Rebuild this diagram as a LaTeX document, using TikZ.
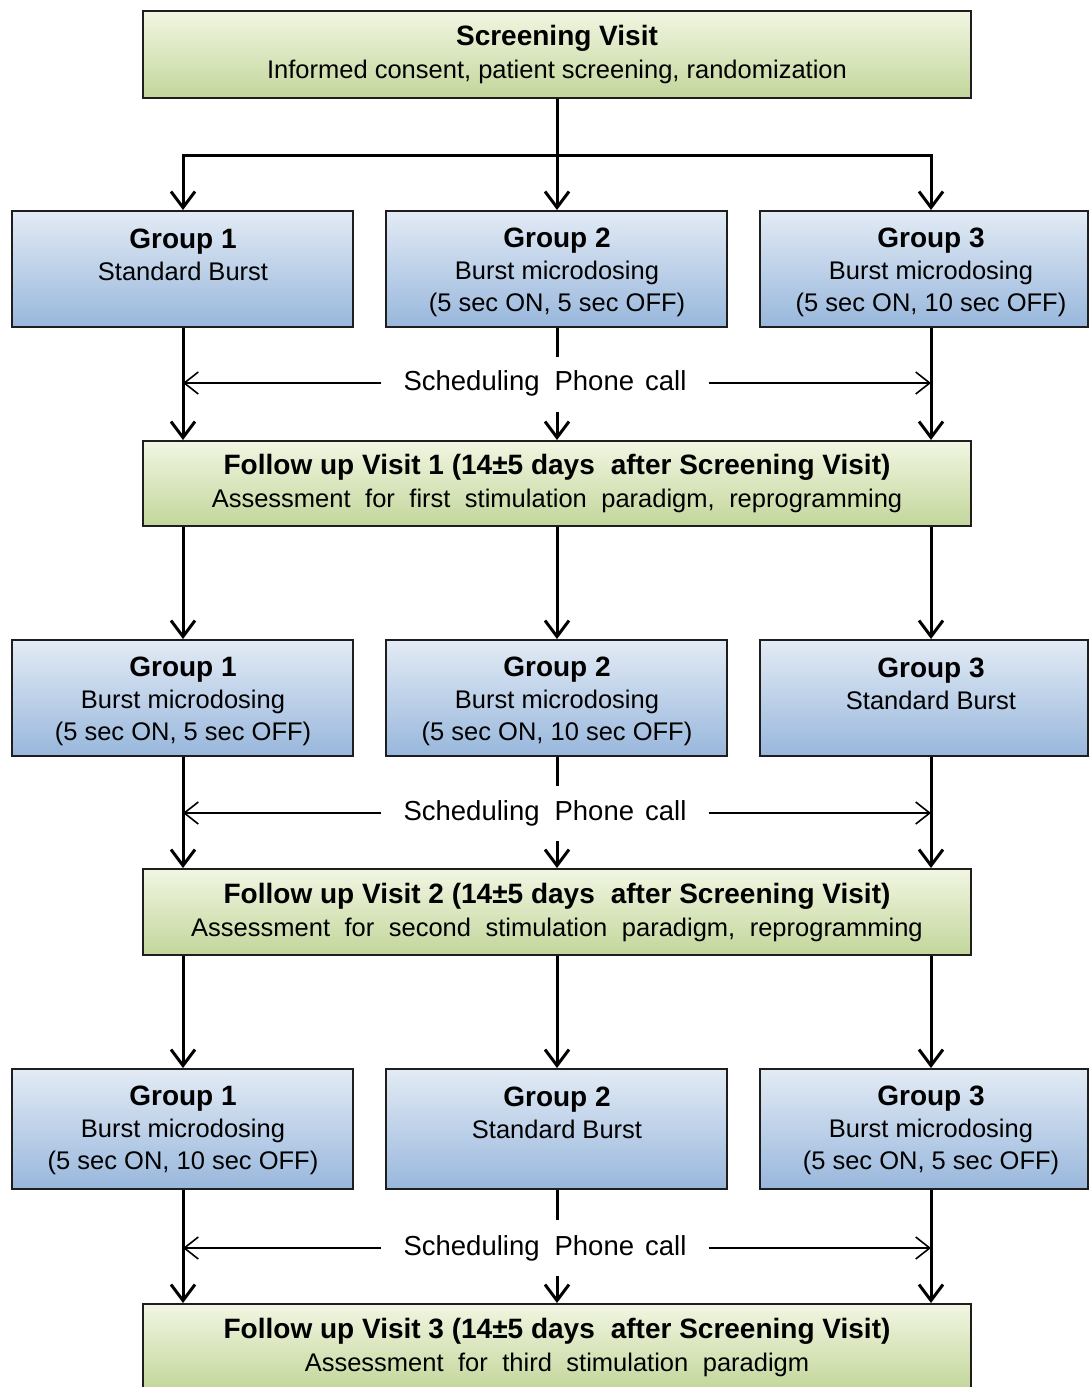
\documentclass[tikz,border=0pt]{standalone}
\usepackage{fontspec}
\setmainfont{Liberation Sans}
\usetikzlibrary{arrows.meta,calc}
\definecolor{gtop}{HTML}{F1F6E2}
\definecolor{gbot}{HTML}{C3D69B}
\definecolor{btop}{HTML}{E3EBF5}
\definecolor{bbot}{HTML}{98B7DC}
\definecolor{edge}{HTML}{1E1E1E}
\newcommand{\ttl}[1]{{\fontsize{28pt}{33pt}\selectfont\bfseries #1}}
\newcommand{\wsp}{\hspace{14.5pt}}
\tikzset{
  greenbox/.style={draw=edge, line width=2pt, top color=gtop, bottom color=gbot,
    minimum width=828pt, inner sep=0pt, align=center,
    font=\fontsize{25.5pt}{33pt}\selectfont},
  bluebox/.style={draw=edge, line width=2pt, top color=btop, bottom color=bbot,
    minimum width=341pt, minimum height=116pt, inner sep=0pt},
  bluetext/.style={inner sep=0pt, align=center, font=\fontsize{25.5pt}{32pt}\selectfont},
  conn/.style={line width=3pt, -{Straight Barb[length=16pt,width=24pt,line width=3pt]}},
  plain/.style={line width=3pt},
  phone/.style={line width=1.6pt, -{Straight Barb[length=14pt,width=22pt,line width=1.6pt]}},
  phonelbl/.style={inner xsep=22pt, inner ysep=2pt, font=\fontsize{27.5pt}{30pt}\selectfont},
}
\begin{document}
\begin{tikzpicture}[x=1pt,y=-1pt]
\useasboundingbox (0,0) rectangle (1089,1387);
\coordinate (colL) at (183,0);
\coordinate (colM) at (557,0);
\coordinate (colR) at (931,0);

% green boxes
\node[greenbox, minimum height=87pt] (sv) at (557,54.5)
  {\ttl{Screening Visit}\\[-0.5pt]Informed consent, patient screening, randomization};
\node[greenbox, minimum height=85pt] (fu1) at (557,483.5)
  {\ttl{Follow up Visit 1 (14±5 days\hspace{16pt}after Screening Visit)}\\Assessment\wsp for\wsp first\wsp stimulation\wsp paradigm,\wsp reprogramming};
\node[greenbox, minimum height=86pt] (fu2) at (557,912)
  {\ttl{Follow up Visit 2 (14±5 days\hspace{16pt}after Screening Visit)}\\Assessment\wsp for\wsp second\wsp stimulation\wsp paradigm,\wsp reprogramming};
\node[greenbox, minimum height=86pt] (fu3) at (557,1347)
  {\ttl{Follow up Visit 3 (14±5 days\hspace{16pt}after Screening Visit)}\\Assessment\wsp for\wsp third\wsp stimulation\wsp paradigm};

% row 1
\node[bluebox] (g11) at (182.5,269) {};
\node[bluebox] (g12) at (556.5,269) {};
\node[bluebox, minimum width=328pt] (g13) at (924,269) {};
\node[bluetext] (g11t) at (183,255) {\ttl{Group 1}\\Standard Burst};
\node[bluetext] (g12t) at (557,272) {\ttl{Group 2}\\Burst microdosing\\(5 sec ON,  5 sec OFF)};
\node[bluetext] (g13t) at (931,272) {\ttl{Group 3}\\Burst microdosing\\(5 sec ON,  10 sec OFF)};

% row 2
\node[bluebox] (g21) at (182.5,698) {};
\node[bluebox] (g22) at (556.5,698) {};
\node[bluebox, minimum width=328pt] (g23) at (924,698) {};
\node[bluetext] (g21t) at (183,701) {\ttl{Group 1}\\Burst microdosing\\(5 sec ON,  5 sec OFF)};
\node[bluetext] (g22t) at (557,701) {\ttl{Group 2}\\Burst microdosing\\(5 sec ON,  10 sec OFF)};
\node[bluetext] (g23t) at (931,684) {\ttl{Group 3}\\Standard Burst};

% row 3
\node[bluebox, minimum height=120pt] (g31) at (182.5,1129) {};
\node[bluebox, minimum height=120pt] (g32) at (556.5,1129) {};
\node[bluebox, minimum height=120pt, minimum width=328pt] (g33) at (924,1129) {};
\node[bluetext] (g31t) at (183,1130) {\ttl{Group 1}\\Burst microdosing\\(5 sec ON,  10 sec OFF)};
\node[bluetext] (g32t) at (557,1113) {\ttl{Group 2}\\Standard Burst};
\node[bluetext] (g33t) at (931,1130) {\ttl{Group 3}\\Burst microdosing\\(5 sec ON,  5 sec OFF)};

% top split
\coordinate (split) at (557,155);
\draw[plain] (sv.south) -- (split);
\draw[conn] (split) -| (g11.north -| colL);
\draw[conn] (split) -- (g12.north -| colM);
\draw[conn] (split) -| (g13.north -| colR);

% row 1 -> FU1
\draw[conn] (g11.south -| colL) -- (fu1.north -| colL);
\draw[conn] (g13.south -| colR) -- (fu1.north -| colR);
\coordinate (m1a) at (557,357);
\coordinate (m1b) at (557,412);
\draw[plain] (g12.south -| colM) -- (m1a);
\draw[conn] (m1b) -- (fu1.north -| colM);
\node[phonelbl] (ph1) at (545,383) {Scheduling\hspace{15pt}Phone\hspace{11pt}call};
\draw[phone] (ph1.west) -- (ph1.west -| colL);
\draw[phone] (ph1.east) -- (ph1.east -| colR);

% FU1 -> row 2
\draw[conn] (fu1.south -| colL) -- (g21.north -| colL);
\draw[conn] (fu1.south -| colM) -- (g22.north -| colM);
\draw[conn] (fu1.south -| colR) -- (g23.north -| colR);

% row 2 -> FU2
\draw[conn] (g21.south -| colL) -- (fu2.north -| colL);
\draw[conn] (g23.south -| colR) -- (fu2.north -| colR);
\coordinate (m2a) at (557,786);
\coordinate (m2b) at (557,841);
\draw[plain] (g22.south -| colM) -- (m2a);
\draw[conn] (m2b) -- (fu2.north -| colM);
\node[phonelbl] (ph2) at (545,813) {Scheduling\hspace{15pt}Phone\hspace{11pt}call};
\draw[phone] (ph2.west) -- (ph2.west -| colL);
\draw[phone] (ph2.east) -- (ph2.east -| colR);

% FU2 -> row 3
\draw[conn] (fu2.south -| colL) -- (g31.north -| colL);
\draw[conn] (fu2.south -| colM) -- (g32.north -| colM);
\draw[conn] (fu2.south -| colR) -- (g33.north -| colR);

% row 3 -> FU3
\draw[conn] (g31.south -| colL) -- (fu3.north -| colL);
\draw[conn] (g33.south -| colR) -- (fu3.north -| colR);
\coordinate (m3a) at (557,1220);
\coordinate (m3b) at (557,1276);
\draw[plain] (g32.south -| colM) -- (m3a);
\draw[conn] (m3b) -- (fu3.north -| colM);
\node[phonelbl] (ph3) at (545,1248) {Scheduling\hspace{15pt}Phone\hspace{11pt}call};
\draw[phone] (ph3.west) -- (ph3.west -| colL);
\draw[phone] (ph3.east) -- (ph3.east -| colR);
\end{tikzpicture}
\end{document}
